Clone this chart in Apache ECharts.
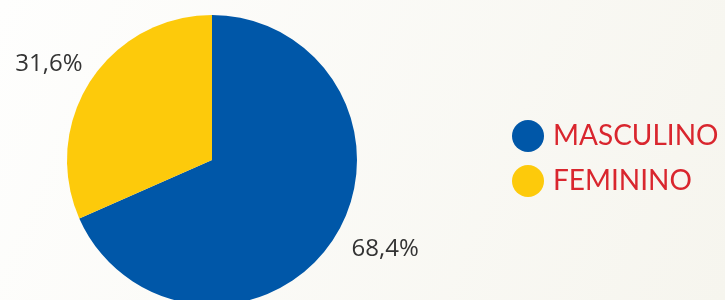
<!DOCTYPE html>
<html>
<head>
<meta charset="utf-8">
<script src="https://cdn.jsdelivr.net/npm/echarts@6/dist/echarts.min.js"></script>
<style>
  html, body { margin: 0; padding: 0; }
  #chart { width: 725px; height: 300px; }
</style>
</head>
<body>
<div id="chart"></div>
<script>
// categorias e valores (%)
var categories = ['MASCULINO', 'FEMININO'];
var values = [68.4, 31.6];
var colors = ['#0057a8', '#fdca0b'];

var pieData = [];
categories.forEach(function (name, i) {
    pieData.push({ name: name, value: values[i], itemStyle: { color: colors[i] } });
});

var myChart = echarts.init(document.getElementById('chart'));

var option = {
    backgroundColor: {
        type: 'linear', x: 0, y: 0, x2: 1, y2: 1,
        colorStops: [
            { offset: 0, color: '#fefefd' },
            { offset: 1, color: '#f6f5ee' }
        ]
    },
    legend: {
        orient: 'vertical',
        left: 507,
        top: 115,
        icon: 'circle',
        itemWidth: 32,
        itemHeight: 32,
        itemGap: 13,
        data: categories,
        textStyle: {
            color: '#d9262e',
            fontFamily: 'Lato',
            fontSize: 28,
            padding: [0, 0, 0, 4]
        }
    },
    series: [{
        name: 'Sexo',
        type: 'pie',
        center: [212, 160],
        radius: 145,
        startAngle: 90,
        clockwise: true,
        animation: false,
        silent: true,
        label: {
            show: true,
            position: 'outside',
            overflow: 'none',
            formatter: function (p) {
                return p.value.toFixed(1).replace('.', ',') + '%';
            },
            color: '#333333',
            fontFamily: 'Open Sans',
            fontSize: 24
        },
        labelLine: { show: false, length: 18, length2: 0 },
        // pequeno ajuste do rótulo do feminino
        labelLayout: function (p) {
            if (p.dataIndex === 1) return { dx: 12, dy: -7 };
            return { dx: -2, dy: 0 };
        },
        data: pieData
    }]
};

myChart.setOption(option);
</script>
</body>
</html>
